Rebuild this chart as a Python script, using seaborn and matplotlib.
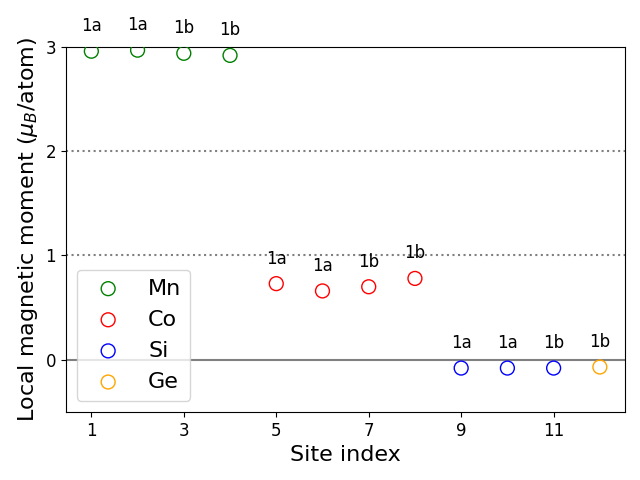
import matplotlib
matplotlib.use("Agg")
import matplotlib.pyplot as plt
import seaborn as sns
import pandas as pd

sites = [1, 2, 3, 4, 5, 6, 7, 8, 9, 10, 11, 12]
moments = [2.96, 2.97, 2.94, 2.92, 0.73, 0.66, 0.70, 0.78, -0.08, -0.08, -0.08, -0.07]
elements = ["Mn"] * 4 + ["Co"] * 4 + ["Si"] * 3 + ["Ge"]
wyckoff = ["1a", "1a", "1b", "1b", "1a", "1a", "1b", "1b", "1a", "1a", "1b", "1b"]
element_order = ["Mn", "Co", "Si", "Ge"]
element_colors = {"Mn": "green", "Co": "red", "Si": "blue", "Ge": "orange"}

df = pd.DataFrame({"site": sites, "moment": moments, "element": elements, "label": wyckoff})

fig, ax = plt.subplots(figsize=(6.4, 4.8), dpi=100)
fig.subplots_adjust(left=0.103, right=0.977, top=0.902, bottom=0.142)

ax.axhline(0, color="gray", lw=1.5, zorder=0)
for yv in (1, 2):
    ax.axhline(yv, color="gray", ls=":", lw=1.5, zorder=0)

for el in element_order:
    sub = df[df["element"] == el]
    sns.scatterplot(data=sub, x="site", y="moment", ax=ax, s=100,
                    color=element_colors[el], label=el, zorder=3)
    coll = ax.collections[-1]
    coll.set_facecolor("none")
    coll.set_edgecolor(element_colors[el])
    coll.set_linewidth(1.0)

for s, m, lab in zip(sites, moments, wyckoff):
    ax.text(s, m + 0.24, lab, ha="center", va="center", fontsize=12)

ax.set_ylim(-0.5, 3)
ax.set_xticks([1, 3, 5, 7, 9, 11])
ax.set_yticks([0, 1, 2, 3])
ax.tick_params(labelsize=12)
ax.set_xlabel("Site index", fontsize=16)
ax.set_ylabel(r"Local magnetic moment ($\mu_B$/atom)", fontsize=16)
ax.legend(loc="lower left", fontsize=16)

fig.savefig("out.png", dpi=100)
